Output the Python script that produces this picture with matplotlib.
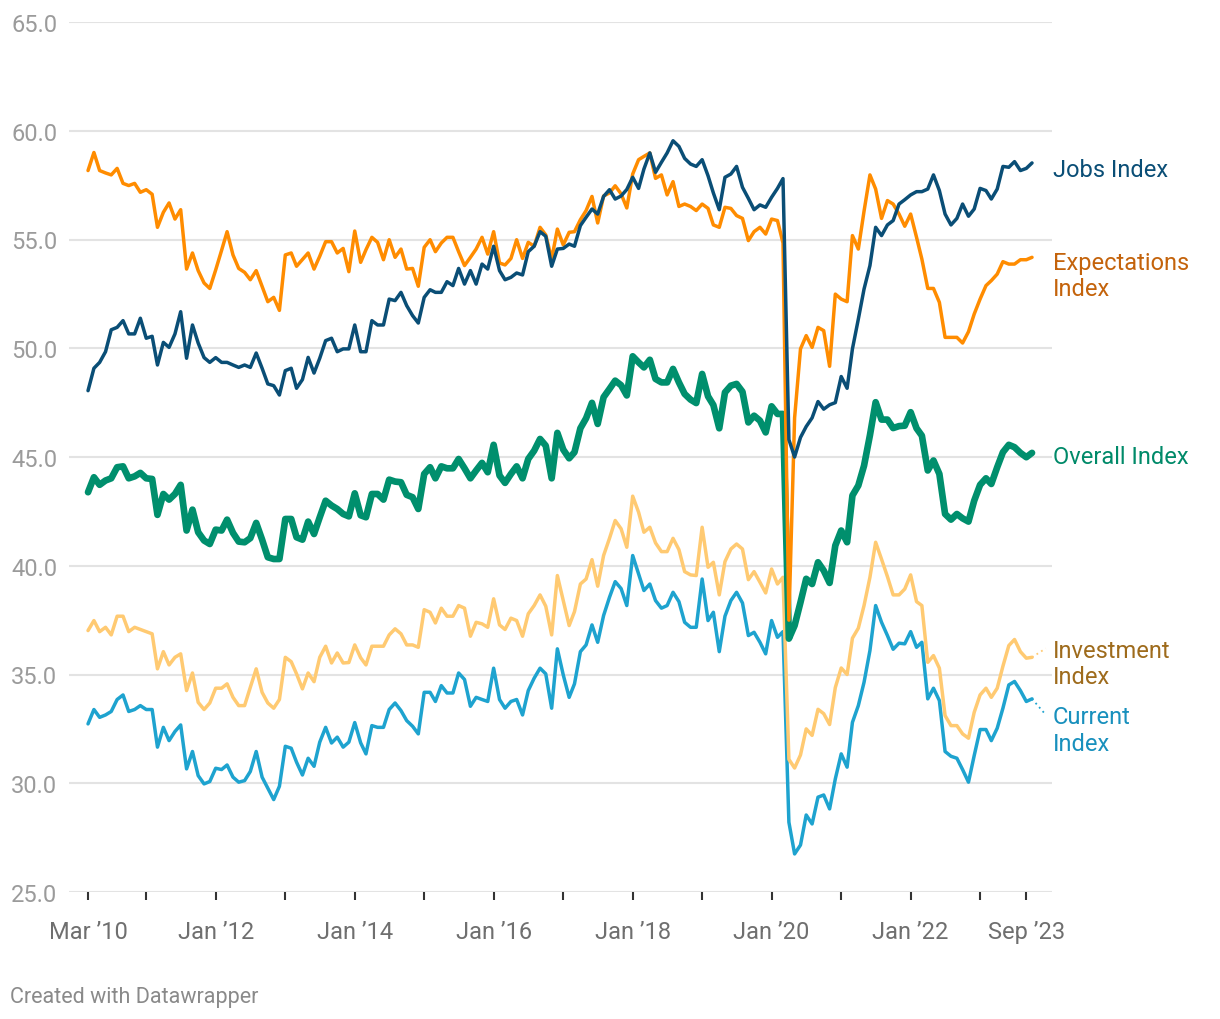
import numpy as np
import pandas as pd
import matplotlib

matplotlib.use("Agg")
import matplotlib.pyplot as plt
import matplotlib.dates as mdates

plt.rcParams["font.family"] = ["Roboto", "DejaVu Sans"]

# monthly readings, Mar 2010 .. Oct 2023
months = pd.date_range("2010-03-01", periods=164, freq="MS")

jobs = [
    48.05, 49.08, 49.35, 49.84, 50.85, 50.96, 51.27, 50.66, 50.66, 51.38, 50.46, 50.55,
    49.23, 50.27, 50.04, 50.66, 51.68, 49.54, 51.07, 50.24, 49.57, 49.35, 49.57, 49.35,
    49.35, 49.23, 49.12, 49.23, 49.12, 49.78, 49.08, 48.36, 48.28, 47.85, 48.97, 49.08,
    48.16, 48.56, 49.58, 48.86, 49.54, 50.35, 50.46, 49.84, 49.97, 49.97, 51.07, 49.84,
    49.84, 51.27, 51.07, 51.07, 52.26, 52.19, 52.57, 51.96, 51.50, 51.16, 52.34, 52.69,
    52.57, 52.57, 53.06, 52.88, 53.67, 52.95, 53.57, 52.95, 53.87, 53.64, 54.69, 53.57,
    53.15, 53.26, 53.46, 53.37, 54.44, 54.69, 55.36, 55.15, 53.77, 54.56, 54.59, 54.79,
    54.69, 55.64, 56.02, 56.40, 56.17, 56.98, 57.29, 56.86, 57.00, 57.30, 57.86, 57.35,
    58.24, 58.98, 58.09, 58.55, 58.98, 59.54, 59.28, 58.73, 58.47, 58.36, 58.67, 57.93,
    57.14, 56.37, 57.86, 58.01, 58.36, 57.40, 56.89, 56.37, 56.59, 56.48, 56.94, 57.35,
    57.80, 45.80, 45.00, 45.90, 46.40, 46.80, 47.55, 47.20, 47.40, 47.50, 48.70, 48.16,
    49.97, 51.34, 52.72, 53.80, 55.56, 55.18, 55.67, 55.87, 56.63, 56.83, 57.05, 57.20,
    57.20, 57.32, 57.97, 57.25, 56.17, 55.67, 55.97, 56.63, 56.07, 56.40, 57.35, 57.25,
    56.86, 57.32, 58.36, 58.32, 58.58, 58.17, 58.27, 58.52,
]

expectations = [
    58.17, 59.00, 58.17, 58.06, 57.97, 58.27, 57.58, 57.48, 57.58, 57.17, 57.29, 57.08,
    55.56, 56.25, 56.68, 55.94, 56.37, 53.64, 54.38, 53.57, 53.00, 52.75, 53.60, 54.50,
    55.36, 54.29, 53.67, 53.49, 53.15, 53.57, 52.85, 52.14, 52.34, 51.74, 54.29, 54.38,
    53.77, 54.08, 54.38, 53.64, 54.23, 54.90, 54.90, 54.38, 54.59, 53.52, 55.39, 53.95,
    54.53, 55.10, 54.87, 54.07, 54.99, 54.18, 54.56, 53.64, 53.67, 52.85, 54.64, 54.99,
    54.44, 54.84, 55.10, 55.10, 54.44, 53.80, 54.18, 54.56, 55.10, 54.33, 55.36, 53.92,
    53.83, 54.13, 54.99, 54.13, 54.87, 54.69, 55.56, 55.21, 54.10, 55.48, 54.75, 55.33,
    55.36, 55.91, 56.33, 56.98, 55.76, 57.00, 57.14, 57.47, 57.10, 56.45, 58.01, 58.67,
    58.82, 58.98, 57.81, 57.97, 57.05, 57.66, 56.52, 56.63, 56.52, 56.33, 56.63, 56.43,
    55.67, 55.56, 56.48, 56.43, 56.10, 55.97, 54.95, 55.36, 55.56, 55.25, 55.94, 55.87,
    54.84, 37.50, 46.80, 49.97, 50.58, 50.04, 50.96, 50.81, 49.17, 52.49, 52.26, 52.14,
    55.18, 54.56, 56.30, 57.97, 57.32, 55.97, 56.79, 56.63, 56.17, 55.61, 56.17, 55.10,
    54.10, 52.75, 52.75, 52.11, 50.50, 50.50, 50.50, 50.24, 50.76, 51.57, 52.26, 52.88,
    53.11, 53.41, 53.98, 53.87, 53.87, 54.07, 54.07, 54.18,
]

overall = [
    43.38, 44.07, 43.72, 43.92, 44.02, 44.53, 44.57, 44.02, 44.11, 44.27, 44.02, 43.99,
    42.34, 43.30, 43.04, 43.30, 43.72, 41.62, 42.58, 41.54, 41.16, 41.00, 41.66, 41.62,
    42.12, 41.51, 41.11, 41.08, 41.27, 41.97, 41.20, 40.39, 40.31, 40.31, 42.15, 42.15,
    41.31, 41.20, 42.03, 41.46, 42.23, 42.99, 42.77, 42.61, 42.38, 42.27, 43.33, 42.32,
    42.23, 43.30, 43.30, 43.04, 43.96, 43.87, 43.84, 43.26, 43.15, 42.61, 44.22, 44.53,
    44.02, 44.57, 44.48, 44.48, 44.91, 44.48, 44.02, 44.38, 44.73, 44.30, 45.56, 44.15,
    43.81, 44.22, 44.57, 44.02, 44.91, 45.29, 45.83, 45.52, 44.02, 46.11, 45.34, 44.94,
    45.22, 46.32, 46.78, 47.49, 46.52, 47.75, 48.13, 48.51, 48.30, 47.83, 49.63, 49.35,
    49.12, 49.47, 48.59, 48.43, 48.43, 49.05, 48.43, 47.90, 47.64, 47.48, 48.82, 47.79,
    47.39, 46.32, 47.97, 48.28, 48.36, 48.00, 46.59, 46.90, 46.67, 46.13, 47.33, 46.98,
    46.98, 36.65, 37.25, 38.32, 39.40, 39.16, 40.16, 39.78, 39.21, 40.93, 41.62, 41.08,
    43.23, 43.69, 44.60, 46.00, 47.52, 46.72, 46.72, 46.33, 46.42, 46.44, 47.06, 46.32,
    45.98, 44.38, 44.84, 44.22, 42.38, 42.12, 42.38, 42.18, 42.03, 42.99, 43.72, 44.02,
    43.76, 44.53, 45.22, 45.56, 45.45, 45.19, 44.99, 45.19,
]

investment = [
    37.02, 37.48, 36.97, 37.17, 36.82, 37.68, 37.68, 36.97, 37.17, 37.07, 36.97, 36.87,
    35.26, 36.05, 35.44, 35.79, 35.95, 34.26, 35.07, 33.72, 33.39, 33.69, 34.37, 34.37,
    34.57, 33.95, 33.57, 33.57, 34.41, 35.26, 34.18, 33.69, 33.45, 33.85, 35.79, 35.59,
    35.03, 34.34, 35.07, 34.67, 35.79, 36.30, 35.53, 35.99, 35.53, 35.55, 36.36, 35.77,
    35.44, 36.30, 36.30, 36.30, 36.82, 37.10, 36.87, 36.36, 36.36, 36.25, 37.98, 37.86,
    37.37, 38.05, 37.68, 37.68, 38.17, 38.05, 36.76, 37.40, 37.33, 37.17, 38.48, 37.28,
    37.07, 37.59, 37.48, 36.76, 37.79, 38.17, 38.66, 38.14, 36.82, 39.55, 38.40, 37.25,
    37.89, 39.16, 39.39, 40.28, 39.06, 40.47, 41.26, 42.08, 41.70, 40.85, 43.20, 42.46,
    41.54, 41.77, 41.05, 40.65, 40.65, 41.26, 40.74, 39.73, 39.58, 39.55, 41.77, 39.93,
    40.16, 38.66, 40.19, 40.77, 41.00, 40.77, 39.36, 39.73, 39.24, 38.75, 39.85, 39.16,
    39.47, 31.10, 30.70, 31.30, 32.50, 32.20, 33.40, 33.20, 32.70, 34.40, 35.30, 35.00,
    36.67, 37.13, 38.17, 39.47, 41.08, 40.30, 39.50, 38.66, 38.66, 38.93, 39.58, 38.35,
    38.17, 35.56, 35.87, 35.29, 33.11, 32.65, 32.65, 32.27, 32.07, 33.26, 34.06, 34.37,
    33.95, 34.37, 35.38, 36.33, 36.61, 36.05, 35.75, 35.79,
]

current = [
    32.73, 33.39, 33.03, 33.14, 33.30, 33.85, 34.06, 33.30, 33.39, 33.57, 33.39, 33.39,
    31.66, 32.57, 31.96, 32.38, 32.68, 30.66, 31.46, 30.35, 29.97, 30.08, 30.69, 30.63,
    30.84, 30.28, 30.05, 30.12, 30.54, 31.46, 30.28, 29.77, 29.25, 29.86, 31.70, 31.61,
    30.97, 30.38, 31.15, 30.78, 31.89, 32.57, 31.85, 32.12, 31.66, 31.89, 32.79, 31.86,
    31.35, 32.65, 32.57, 32.57, 33.39, 33.69, 33.34, 32.88, 32.62, 32.27, 34.18, 34.18,
    33.76, 34.49, 34.15, 34.15, 35.07, 34.77, 33.54, 33.95, 33.85, 33.76, 35.29, 33.85,
    33.45, 33.76, 33.85, 33.14, 34.26, 34.83, 35.29, 35.03, 33.45, 36.18, 34.98, 33.95,
    34.57, 36.05, 36.36, 37.28, 36.48, 37.71, 38.55, 39.27, 38.95, 38.17, 40.47, 39.62,
    38.86, 39.16, 38.40, 38.05, 38.17, 38.78, 38.35, 37.40, 37.17, 37.17, 39.39, 37.48,
    37.86, 36.05, 37.68, 38.40, 38.78, 38.29, 36.79, 36.94, 36.48, 35.95, 37.48, 36.71,
    36.97, 28.21, 26.75, 27.16, 28.54, 28.13, 29.36, 29.46, 28.82, 30.20, 31.35, 30.74,
    32.80, 33.57, 34.64, 36.10, 38.17, 37.40, 36.79, 36.16, 36.44, 36.41, 36.97, 36.25,
    36.48, 33.88, 34.37, 33.80, 31.46, 31.24, 31.15, 30.63, 30.05, 31.27, 32.47, 32.47,
    31.96, 32.53, 33.45, 34.52, 34.68, 34.26, 33.76, 33.88,
]

tick_dates = pd.to_datetime(["2010-03-01"] + [f"{y}-01-01" for y in range(2011, 2024)] + ["2023-09-01"])
tick_text = {"2010-03-01": "Mar \u201910", "2012-01-01": "Jan \u201912", "2014-01-01": "Jan \u201914",
             "2016-01-01": "Jan \u201916", "2018-01-01": "Jan \u201918", "2020-01-01": "Jan \u201920",
             "2022-01-01": "Jan \u201922", "2023-09-01": "Sep \u201923"}
y_ticks = [25, 30, 35, 40, 45, 50, 55, 60, 65]

# (values, colour, width, label, label colour, label y)
series = [
    (current, "#1ea3cf", 2.5, "Current\nIndex", "#1890bd", 32.45),
    (investment, "#ffca72", 2.5, "Investment\nIndex", "#9e6b1c", 35.5),
    (overall, "#008f6d", 4.8, "Overall Index", "#008a69", 45.0),
    (expectations, "#ff8c00", 2.5, "Expectations\nIndex", "#c4630b", 53.35),
    (jobs, "#0a4e76", 2.5, "Jobs Index", "#0a4e76", 58.2),
]

fig = plt.figure(figsize=(12.2, 10.2), dpi=100)
ax = fig.add_axes([69 / 1220, 1 - 893 / 1020, 983 / 1220, 870 / 1020])

for vals, col, lw, lab, lab_col, ly in series:
    ax.plot(months, vals, color=col, lw=lw, solid_joinstyle="round", solid_capstyle="round", zorder=3)

x_lab = pd.Timestamp("2024-01-18")
for vals, col, lw, lab, lab_col, ly in series:
    ax.text(x_lab, ly, lab, color=lab_col, fontsize=17, va="center", ha="left",
            linespacing=1.2, clip_on=False)

# dotted leader lines for the stacked lower labels
x_lead = pd.Timestamp("2023-12-12")
ax.plot([months[-1], x_lead], [investment[-1], 36.2], color="#ffca72", lw=1.3, ls=(0, (1, 2)), clip_on=False)
ax.plot([months[-1], x_lead], [current[-1], 33.15], color="#1ea3cf", lw=1.3, ls=(0, (1, 2)), clip_on=False)

ax.set_ylim(25, 65)
ax.set_xlim(pd.Timestamp("2009-11-21"), pd.Timestamp("2024-01-14"))
ax.set_yticks(y_ticks)
ax.set_yticklabels([f"{v:.1f}" for v in y_ticks])
ax.grid(axis="y", color="#e3e3e3", lw=1.5, zorder=0)
ax.set_axisbelow(True)
for s in ax.spines.values():
    s.set_visible(False)

ax.set_xticks(tick_dates)
ax.set_xticklabels([tick_text.get(d.strftime("%Y-%m-%d"), "") for d in tick_dates])
ax.tick_params(axis="x", length=6, width=1.5, color="#333333", pad=14, labelsize=17, labelcolor="#6f6f6f")
ax.tick_params(axis="y", length=0, pad=8.5, labelsize=17, labelcolor="#9b9b9b")

fig.text(10 / 1220, 1 - 998 / 1020, "Created with Datawrapper", fontsize=15.5, color="#8a8a8a", va="center")

fig.savefig("out.png", dpi=100)
